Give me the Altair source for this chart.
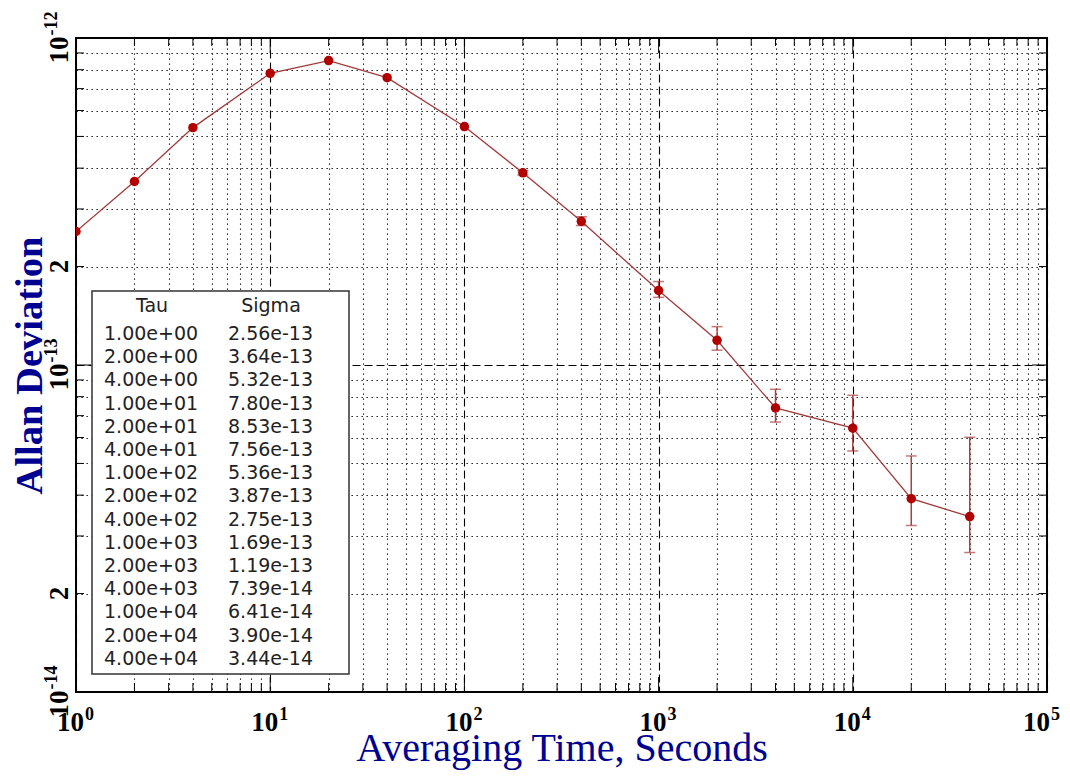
import altair as alt
import pandas as pd

# ---- data ----
tau = [1, 2, 4, 10, 20, 40, 100, 200, 400, 1000, 2000, 4000, 10000, 20000, 40000]
sigma = [2.56e-13, 3.64e-13, 5.32e-13, 7.80e-13, 8.53e-13, 7.56e-13, 5.36e-13,
         3.87e-13, 2.75e-13, 1.69e-13, 1.19e-13, 7.39e-14, 6.41e-14, 3.90e-14, 3.44e-14]
err_tau = [200, 400, 1000, 2000, 4000, 10000, 20000, 40000]
err_lo = [3.81e-13, 2.67e-13, 1.61e-13, 1.11e-13, 6.69e-14, 5.46e-14, 3.23e-14, 2.67e-14]
err_hi = [3.93e-13, 2.84e-13, 1.80e-13, 1.31e-13, 8.43e-14, 8.08e-14, 5.27e-14, 6.01e-14]

x_decades = [1, 10, 100, 1000, 10000, 100000]
x_exponents = ["0", "1", "2", "3", "4", "5"]
y_label_values = [1e-14, 2e-14, 1e-13, 2e-13, 1e-12]
y_label_base = ["10", "2", "10", "2", "10"]
y_label_exp = ["-14", "", "-13", "", "-12"]
mantissas = [1, 2, 3, 4, 5, 6, 7, 8, 9]

W, H = 971, 654
Y_TITLE = "Allan Deviation"

x_ticks = [m * 10 ** d for d in range(5) for m in mantissas] + [100000]
y_ticks = [m * 10.0 ** e for e in (-14, -13) for m in mantissas] + [1e-12]
x_major = [v for v in x_ticks if v in x_decades]
x_minor = [v for v in x_ticks if v not in x_decades]
y_major = [1e-14, 1e-13, 1e-12]
y_minor = [v for v in y_ticks if v not in y_major]

xs = alt.Scale(type="log", domain=[1, 100000])
ys = alt.Scale(type="log", domain=[1e-14, 1e-12])

dash_cond = {
    "condition": {
        "test": "abs(log(datum.value)/LN10 - round(log(datum.value)/LN10)) < 0.01",
        "value": [8, 4],
    },
    "value": [1.3, 3.7],
}

x_axis = alt.Axis(
    values=x_ticks, grid=True, gridDash=dash_cond, gridColor="#000000", gridWidth=1.1,
    gridOpacity=1, labels=False, ticks=False, tickSize=0, domain=False,
    title="Averaging Time, Seconds", titleFont="Liberation Serif", titleFontSize=40,
    titleFontWeight="normal", titleColor="#000090", titleX=W / 2, titleY=68,
    titleAlign="center", titleBaseline="alphabetic",
)
y_axis = alt.Axis(
    values=y_ticks, grid=True, gridDash=dash_cond, gridColor="#000000", gridWidth=1.1,
    gridOpacity=1, labels=False, ticks=False, tickSize=0, domain=False,
    title=Y_TITLE, titleFont="Liberation Serif", titleFontSize=38.5,
    titleFontWeight="bold", titleColor="#000090", titleAngle=270, titleX=-35,
    titleY=H / 2, titleAlign="center", titleBaseline="alphabetic",
)

df = pd.DataFrame({"tau": tau, "sigma": sigma})
edf = pd.DataFrame({"tau": err_tau, "lo": err_lo, "hi": err_hi})

line = alt.Chart(df).mark_line(color="#a33a3a", strokeWidth=1.3, clip=True).encode(
    x=alt.X("tau:Q", scale=xs, axis=x_axis),
    y=alt.Y("sigma:Q", scale=ys, axis=y_axis),
)
points = alt.Chart(df).mark_circle(size=90, color="#b00000", opacity=1, clip=True).encode(
    x=alt.X("tau:Q", scale=xs, axis=x_axis), y=alt.Y("sigma:Q", scale=ys, axis=y_axis)
)
errs = alt.Chart(edf).mark_errorbar(
    ticks={"size": 11, "thickness": 1.5}, rule={"strokeWidth": 1.5}, color="#a84040"
).encode(
    x=alt.X("tau:Q", scale=xs, axis=x_axis),
    y=alt.Y("lo:Q", scale=ys, axis=y_axis),
    y2="hi:Q",
)

# inner ticks on all four sides
def xt(vals, y1, y2):
    return alt.Chart(pd.DataFrame({"v": vals})).mark_rule(color="black", strokeWidth=1).encode(
        x=alt.X("v:Q", scale=xs, axis=x_axis), y=alt.value(y1), y2=alt.value(y2))

def yt(vals, x1, x2):
    return alt.Chart(pd.DataFrame({"v": vals})).mark_rule(color="black", strokeWidth=1).encode(
        y=alt.Y("v:Q", scale=ys, axis=y_axis), x=alt.value(x1), x2=alt.value(x2))

ticks = [
    xt(x_minor, H, H - 9), xt(x_major, H, H - 15),
    xt(x_minor, 0, 8), xt(x_major, 0, 15),
    yt(y_minor, 0, 8), yt(y_major, 0, 15),
    yt(y_minor, W, W - 8), yt(y_major, W, W - 15),
]

# tick labels with superscripts
xl_df = pd.DataFrame({"v": x_decades, "e": x_exponents})
lab = dict(baseline="alphabetic", font="Liberation Serif", fontWeight="bold", color="black")


def x_labels(data, base_dx, exp_dx):
    b = alt.Chart(data).mark_text(align="right", fontSize=27, dx=base_dx, **lab).encode(
        x=alt.X("v:Q", scale=xs, axis=x_axis), y=alt.value(H + 39), text=alt.value("10"))
    e = alt.Chart(data).mark_text(align="left", fontSize=18, dx=exp_dx, **lab).encode(
        x=alt.X("v:Q", scale=xs, axis=x_axis), y=alt.value(H + 28), text="e:N")
    return [b, e]


x_lab_main = [c.transform_filter("datum.v < 100000") for c in x_labels(xl_df, 8, 9)]
x_lab_last = [c.transform_filter("datum.v >= 100000") for c in x_labels(xl_df, 3, 4)]

yl_df = pd.DataFrame({"v": y_label_values, "b": y_label_base, "e": y_label_exp})
y_base10 = alt.Chart(yl_df).transform_filter("datum.e != ''").mark_text(
    align="right", fontSize=27, angle=270, dx=1.5, **lab
).encode(y=alt.Y("v:Q", scale=ys, axis=y_axis), x=alt.value(-8), text="b:N")
y_exp = alt.Chart(yl_df).transform_filter("datum.e != ''").mark_text(
    align="left", fontSize=18, angle=270, dx=2.5, dy=-11, **lab
).encode(y=alt.Y("v:Q", scale=ys, axis=y_axis), x=alt.value(-8), text="e:N")
y_two = alt.Chart(yl_df).transform_filter("datum.e == ''").mark_text(
    align="center", fontSize=27, angle=270, **lab
).encode(y=alt.Y("v:Q", scale=ys, axis=y_axis), x=alt.value(-8), text="b:N")

# table legend
tau_txt = [f"{t:.2e}" for t in tau]
sig_txt = [f"{s:.2e}" for s in sigma]
one = alt.Data(values=[{}])
box = alt.Chart(one).mark_rect(fill="white", stroke="#333333", strokeWidth=1.5).encode(
    x=alt.value(16), x2=alt.value(273), y=alt.value(253), y2=alt.value(636))
tfont = dict(font="DejaVu Sans", fontSize=19, color="#222222", baseline="alphabetic")
hdr_tau = alt.Chart(one).mark_text(align="center", **tfont).encode(
    x=alt.value(76), y=alt.value(274), text=alt.value("Tau"))
hdr_sig = alt.Chart(one).mark_text(align="center", **tfont).encode(
    x=alt.value(195), y=alt.value(274), text=alt.value("Sigma"))
col_tau = alt.Chart(one).mark_text(align="left", lineHeight=23.2, **tfont).encode(
    x=alt.value(28), y=alt.value(302), text=alt.value(tau_txt))
col_sig = alt.Chart(one).mark_text(align="left", lineHeight=23.2, **tfont).encode(
    x=alt.value(152), y=alt.value(302), text=alt.value(sig_txt))

chart = alt.layer(
    line, box, hdr_tau, hdr_sig, col_tau, col_sig, *ticks, errs, points,
    *x_lab_main, *x_lab_last, y_base10, y_exp, y_two,
).properties(
    width=W, height=H,
    autosize=alt.AutoSizeParams(type="none"),
    padding={"left": 68, "top": 30, "right": 15, "bottom": 78},
).configure_view(stroke="black", strokeWidth=2)

chart.save("out.html", embed_options={"renderer": "svg", "actions": False})
